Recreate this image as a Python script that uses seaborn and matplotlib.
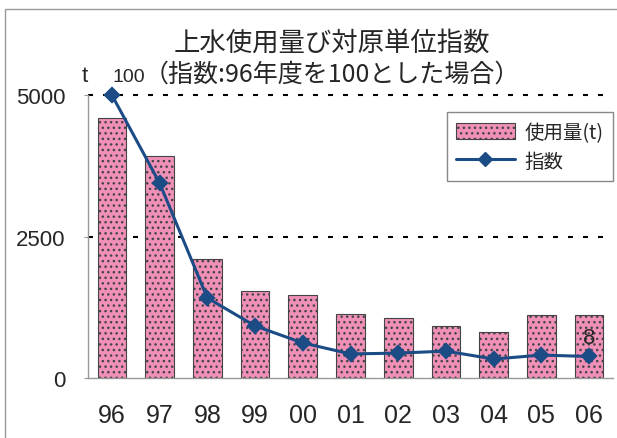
import matplotlib
matplotlib.use('Agg')
import matplotlib.pyplot as plt
import seaborn as sns
import pandas as pd
from matplotlib.patches import Patch, Rectangle
from matplotlib.lines import Line2D

# ---- data ----
years = ['96', '97', '98', '99', '00', '01', '02', '03', '04', '05', '06']
usage_t = [4590, 3920, 2100, 1540, 1470, 1130, 1060, 920, 810, 1110, 1110]
index_val = [100, 68.9, 28.3, 18.4, 12.4, 8.5, 8.8, 9.5, 6.7, 8.1, 7.6]
y_ticks = [0, 2500, 5000]
title_lines = ['上水使用量び対原単位指数', '（指数:96年度を100とした場合）']
legend_labels = ['使用量(t)', '指数']
unit_label = 't'

sns.set_style('white')
plt.rcParams['font.family'] = ['Liberation Sans', 'Noto Sans CJK JP', 'DejaVu Sans']
plt.rcParams['hatch.linewidth'] = 1.0

PINK = '#f090b8'
NAVY = '#1b4c86'
EDGE = '#444444'
JP = ['Noto Sans CJK JP', 'DejaVu Sans']

df = pd.DataFrame({'year': years, 'usage': usage_t, 'index': index_val})

W, H = 617, 439
fig = plt.figure(figsize=(W / 100, H / 100), dpi=100)
fig.patch.set_facecolor('white')
ax = fig.add_axes([88 / W, 1 - 379 / H, (613 - 88) / W, (379 - 96) / H])

sns.barplot(data=df, x='year', y='usage', ax=ax, color=PINK, width=0.6,
            saturation=1, edgecolor=EDGE, linewidth=0.8, hatch='...', zorder=2)
ax.set_ylim(0, 5000)
ax.set_xlim(-0.5, len(years) - 0.5)

for v in y_ticks[1:]:
    ax.axhline(v, color='black', lw=1.5, ls=(0, (2.4, 4.8)), clip_on=False, zorder=1)

for s in ['top', 'right']:
    ax.spines[s].set_visible(False)
for s in ['left', 'bottom']:
    ax.spines[s].set_color('#999999')
    ax.spines[s].set_linewidth(1.0)

ax.set_yticks(y_ticks)
ax.set_yticklabels([str(v) for v in y_ticks])
ax.tick_params(axis='y', direction='out', length=3, width=0.8, color='#999999',
               labelsize=16, pad=13)
ax.set_xticks(range(len(years)))
ax.set_xticklabels(years)
ax.tick_params(axis='x', which='major', length=0, labelsize=18, pad=18)
ax.set_xticks([i + 0.5 for i in range(-1, len(years))], minor=True)
ax.tick_params(axis='x', which='minor', direction='in', length=6, width=0.8, color='#999999')
ax.set_xlabel('')
ax.set_ylabel('')

ax2 = ax.twinx()
sns.pointplot(data=df, x='year', y='index', ax=ax2, color=NAVY, markers='D',
              markersize=7, linewidth=2.2)
ax2.set_ylim(0, 100)
ax2.set_xlim(-0.5, len(years) - 0.5)
ax2.set_axis_off()
for ln in ax2.lines:
    ln.set_clip_on(False)

ax2.annotate(f'{index_val[0]:.0f}', xy=(0, index_val[0]), xytext=(12.5, 13),
             textcoords='offset points', ha='center', va='center', fontsize=14)
ax2.annotate(f'{index_val[-1]:.0f}', xy=(len(years) - 1, index_val[-1]), xytext=(0, 14),
             textcoords='offset points', ha='center', va='center', fontsize=16)

fig.text(85 / W, 1 - 77 / H, unit_label, ha='center', va='center', fontsize=16)

fig.text(332 / W, 1 - 43 / H, title_lines[0], ha='center', va='center',
         fontsize=19, family=JP)
fig.text(332 / W, 1 - 75 / H, title_lines[1], ha='center', va='center',
         fontsize=18, family=JP)

handles = [Patch(facecolor=PINK, edgecolor=EDGE, hatch='...', linewidth=0.8),
           Line2D([], [], color=NAVY, lw=2.2, marker='D', markersize=7)]
leg = fig.legend(handles, legend_labels, loc='upper right',
                 bbox_to_anchor=(613 / W, 1 - 113 / H), borderaxespad=0,
                 prop={'family': JP, 'size': 14}, frameon=True, fancybox=False,
                 framealpha=1, edgecolor='#888888', handlelength=3.0,
                 handleheight=0.9, borderpad=0.5, labelspacing=0.4, handletextpad=0.5)
leg.get_frame().set_linewidth(1.0)

fig.patches.append(Rectangle((5 / W, -0.1), 2, (1 - 10 / H) + 0.1,
                             transform=fig.transFigure, fill=False,
                             edgecolor='#999999', lw=1.0))

fig.savefig('out.png', dpi=100)
